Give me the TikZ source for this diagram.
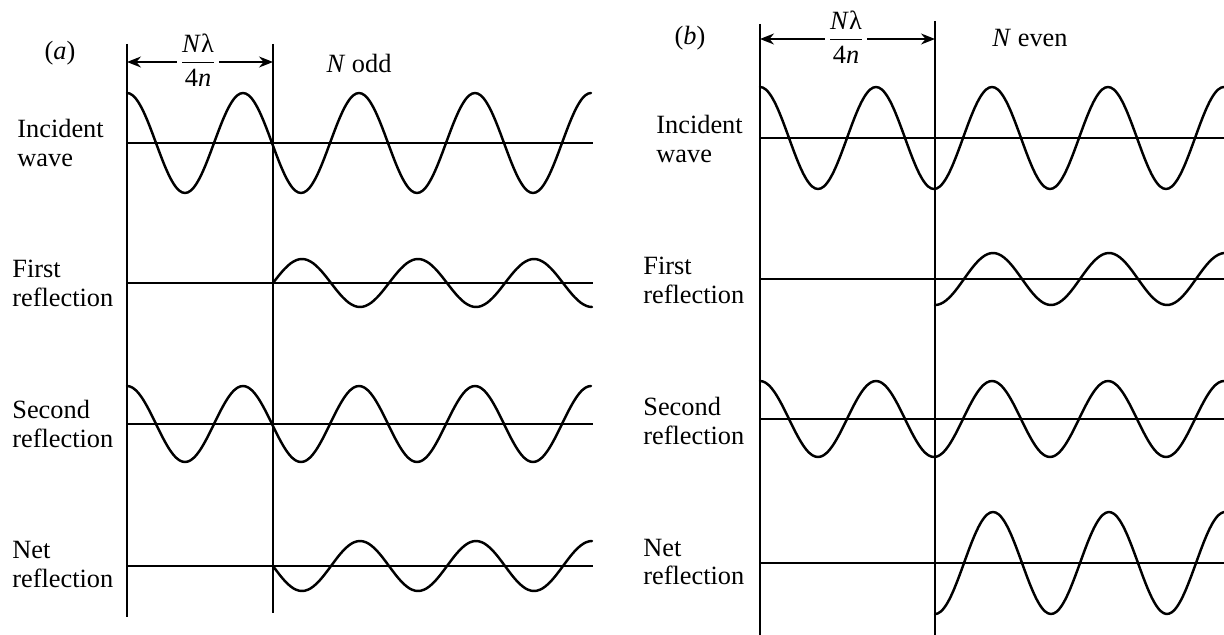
\documentclass[tikz,border=0pt]{standalone}
\usepackage{amsmath}
\usepackage{fontspec}
\setmainfont{Liberation Serif}
\usepackage{tikz}
\usetikzlibrary{arrows.meta,positioning}
\newcommand{\wavefrac}{$\dfrac{\text{\itshape N\/\upshape λ}}{\text{4\itshape n}}$}
\tikzset{
  wave/.style={line width=1.4pt,line join=round,line cap=round},
  axisline/.style={line width=0.9pt},
  edgeline/.style={line width=1.3pt},
  markline/.style={line width=0.8pt},
  dimarr/.style={-{Stealth[length=2.8mm,width=2.2mm]},line width=0.8pt},
  rowlabel/.style={anchor=west,align=left,inner sep=0pt,
                   font=\fontsize{15}{16.5}\selectfont},
  tag/.style={inner sep=0pt,font=\fontsize{15}{18}\selectfont},
  fracbox/.style={inner xsep=1.8pt,inner ysep=0pt,font=\fontsize{15}{18}\selectfont}
}

\begin{document}
\begin{tikzpicture}[x=0.02cm,y=-0.02cm]
    \path[use as bounding box] (0,0) rectangle (1224,635);
    % (a): N odd
    \node[tag] (tagA) at (60,53) {(\textit{a})};
    \node[tag] (oddA) at (359,63) {\textit{N} odd};
    \coordinate (aTopL) at (127,44);
    \coordinate (aBotL) at (127,617);
    \coordinate (aTopR) at (273,44);
    \coordinate (aBotR) at (273,613);
    \coordinate (aArrL) at (127,62);
    \coordinate (aArrR) at (273,62);
    \draw[edgeline] (aTopL) -- (aBotL);
    \draw[markline] (aTopR) -- (aBotR);
    \node[fracbox] (fracA) at (198,60) {\wavefrac};
    \draw[dimarr] (fracA.west |- aArrL) -- (aArrL);
    \draw[dimarr] (fracA.east |- aArrR) -- (aArrR);
    \node[rowlabel] (incA) at (17,143) {Incident\\wave};
    \node[rowlabel] (firstA) at (12,283) {First\\reflection};
    \node[rowlabel] (secA) at (12,424) {Second\\reflection};
    \node[rowlabel] (netA) at (12,564) {Net\\reflection};
    \draw[axisline] (127,143) -- (593,143);
    \draw[axisline] (127,283) -- (593,283);
    \draw[axisline] (127,424) -- (593,424);
    \draw[axisline] (127,566) -- (593,566);
    \draw[wave] plot[domain=0:464,samples=161,smooth] ({127+\x},{143-50*cos(\x/116*360)});
    \draw[wave] plot[domain=0:319,samples=111,smooth] ({273+\x},{283-24*sin(\x/116*360)});
    \draw[wave] plot[domain=0:464,samples=161,smooth] ({127+\x},{424-38*cos(\x/116*360)});
    \draw[wave] plot[domain=0:319,samples=111,smooth] ({273+\x},{566+25*sin(\x/116*360)});
    % (b): N even
    \node[tag] (tagB) at (690,38) {(\textit{b})};
    \node[tag] (evenB) at (1030,38) {\textit{N} even};
    \coordinate (bTopL) at (760,24);
    \coordinate (bBotL) at (760,635);
    \coordinate (bTopR) at (935,21);
    \coordinate (bBotR) at (935,635);
    \coordinate (bArrL) at (760,39);
    \coordinate (bArrR) at (935,39);
    \draw[edgeline] (bTopL) -- (bBotL);
    \draw[markline] (bTopR) -- (bBotR);
    \node[fracbox] (fracB) at (846,37) {\wavefrac};
    \draw[dimarr] (fracB.west |- bArrL) -- (bArrL);
    \draw[dimarr] (fracB.east |- bArrR) -- (bArrR);
    \node[rowlabel] (incB) at (656,139) {Incident\\wave};
    \node[rowlabel] (firstB) at (643,280) {First\\reflection};
    \node[rowlabel] (secB) at (643,421) {Second\\reflection};
    \node[rowlabel] (netB) at (643,562) {Net\\reflection};
    \draw[axisline] (760,138) -- (1224,138);
    \draw[axisline] (760,279) -- (1224,279);
    \draw[axisline] (760,419) -- (1224,419);
    \draw[axisline] (760,563) -- (1224,563);
    \draw[wave] plot[domain=0:464,samples=161,smooth] ({760+\x},{138-51*cos(\x/116*360)});
    \draw[wave] plot[domain=0:289,samples=101,smooth] ({935+\x},{279+26*cos(\x/116*360)});
    \draw[wave] plot[domain=0:464,samples=161,smooth] ({760+\x},{419-38*cos(\x/116*360)});
    \draw[wave] plot[domain=0:289,samples=101,smooth] ({935+\x},{563+51*cos(\x/116*360)});
  \end{tikzpicture}
\end{document}
